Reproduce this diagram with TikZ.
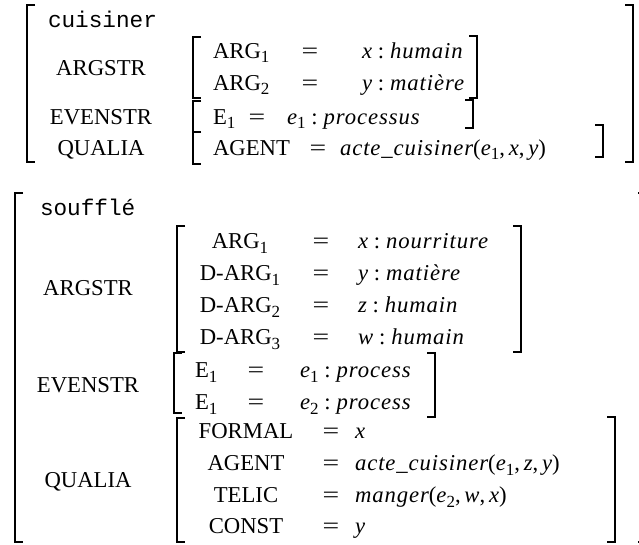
\documentclass[tikz,border=0pt]{standalone}
\usepackage{graphicx}
\usepackage{fontspec}
\setmainfont{Liberation Serif}
\setmonofont{Liberation Mono}
\newfontfamily\mitfam{Liberation Serif Italic}[LetterSpace=4]
\newcommand\mv[1]{{\mitfam #1}}
\newcommand\sbs[1]{\raisebox{-0.22em}{\fontsize{17}{17}\selectfont #1}}
\newcommand\cln{\hspace{0.26em}:\hspace{0.26em}}
\newcommand\eqs{\scalebox{1.3}[1]{=}}
\newcommand\lbr[3]{\draw[br] (#1+8,#2) -- (#1,#2) -- (#1,#3) -- (#1+8,#3);}
\newcommand\rbr[3]{\draw[br] (#1-8,#2) -- (#1,#2) -- (#1,#3) -- (#1-8,#3);}
\begin{document}
\begin{tikzpicture}[x=1pt,y=-1pt,
  t/.style={inner sep=0pt,outer sep=0pt,font=\fontsize{22.7}{27}\selectfont},
  bw/.style={t,anchor=base west},
  bc/.style={t,anchor=base},
  br/.style={line width=1.4pt,line cap=butt}]
\clip (0,0) rectangle (639,544);
\fill[white] (0,0) rectangle (639,544);
% ---------------- structure 1: cuisiner ----------------
\lbr{27}{5}{162}
\rbr{633}{5}{162}
\node[bw] (c-head) at (48,27) {\ttfamily cuisiner};
\node[bc] (c-arg) at (101,75) {ARGSTR};
\node[bc] (c-ev) at (101,124) {EVENSTR};
\node[bc] (c-qu) at (101,155) {QUALIA};
% argstr
\lbr{193}{37}{98}
\rbr{477}{36}{98}
\node[bw] (c-a1) at (213,58) {ARG\sbs{1}};
\node[bc] (c-a1e) at (310,58) {\eqs};
\node[bw] (c-a1v) at (362,58) {\mv{x}\cln\mv{humain}};
\node[bw] (c-a2) at (213,90) {ARG\sbs{2}};
\node[bc] (c-a2e) at (310,90) {\eqs};
\node[bw] (c-a2v) at (362,90) {\mv{y}\cln\mv{matière}};
% evenstr
\lbr{193}{101}{132}
\rbr{473}{100}{128}
\node[bw] (c-e1) at (213,124) {E\sbs{1}};
\node[bc] (c-e1e) at (257,124) {\eqs};
\node[bw] (c-e1v) at (287,124) {\mv{e}\sbs{1}\cln\mv{processus}};
% qualia
\lbr{193}{132}{164}
\rbr{603}{125}{157}
\node[bw] (c-ag) at (213,155) {AGENT};
\node[bc] (c-age) at (318,155) {\eqs};
\node[bw] (c-agv) at (340,155) {\mv{acte\textunderscore cuisiner}(\mv{e}\sbs{1},\,\mv{x},\,\mv{y})};
% ---------------- structure 2: souffle ----------------
\lbr{15}{193}{542}
\rbr{646}{193}{542}
\node[bw] (s-head) at (40,215) {\ttfamily soufflé};
\node[bc] (s-arg) at (88,295) {ARGSTR};
\node[bc] (s-ev) at (88,392) {EVENSTR};
\node[bc] (s-qu) at (88,487) {QUALIA};
% argstr
\lbr{177}{226}{352}
\rbr{521}{226}{352}
\node[bc] (s-a1) at (240,248) {ARG\sbs{1}};
\node[bc] (s-a1e) at (321,248) {\eqs};
\node[bw] (s-a1v) at (358,248) {\mv{x}\cln\mv{nourriture}};
\node[bc] (s-d1) at (240,280) {D-ARG\sbs{1}};
\node[bc] (s-d1e) at (321,280) {\eqs};
\node[bw] (s-d1v) at (358,280) {\mv{y}\cln\mv{matière}};
\node[bc] (s-d2) at (240,312) {D-ARG\sbs{2}};
\node[bc] (s-d2e) at (321,312) {\eqs};
\node[bw] (s-d2v) at (358,312) {\mv{z}\cln\mv{humain}};
\node[bc] (s-d3) at (240,344) {D-ARG\sbs{3}};
\node[bc] (s-d3e) at (321,344) {\eqs};
\node[bw] (s-d3v) at (358,344) {\mv{w}\cln\mv{humain}};
% evenstr
\lbr{174}{353}{413}
\rbr{435}{353}{417}
\node[bw] (s-e1) at (195,377) {E\sbs{1}};
\node[bc] (s-e1e) at (256,377) {\eqs};
\node[bw] (s-e1v) at (300,377) {\mv{e}\sbs{1}\cln\mv{process}};
\node[bw] (s-e2) at (195,409) {E\sbs{1}};
\node[bc] (s-e2e) at (256,409) {\eqs};
\node[bw] (s-e2v) at (300,409) {\mv{e}\sbs{2}\cln\mv{process}};
% qualia
\lbr{177}{418}{542}
\rbr{615}{417}{542}
\node[bc] (s-fo) at (246,438) {FORMAL};
\node[bc] (s-foe) at (331,438) {\eqs};
\node[bw] (s-fov) at (355,438) {\mv{x}};
\node[bc] (s-ag) at (246,470) {AGENT};
\node[bc] (s-age) at (331,470) {\eqs};
\node[bw] (s-agv) at (355,470) {\mv{acte\textunderscore cuisiner}(\mv{e}\sbs{1},\,\mv{z},\,\mv{y})};
\node[bc] (s-te) at (246,502) {TELIC};
\node[bc] (s-tee) at (331,502) {\eqs};
\node[bw] (s-tev) at (355,502) {\mv{manger}(\mv{e}\sbs{2},\,\mv{w},\,\mv{x})};
\node[bc] (s-co) at (246,533) {CONST};
\node[bc] (s-coe) at (331,533) {\eqs};
\node[bw] (s-cov) at (355,533) {\mv{y}};
\end{tikzpicture}
\end{document}
